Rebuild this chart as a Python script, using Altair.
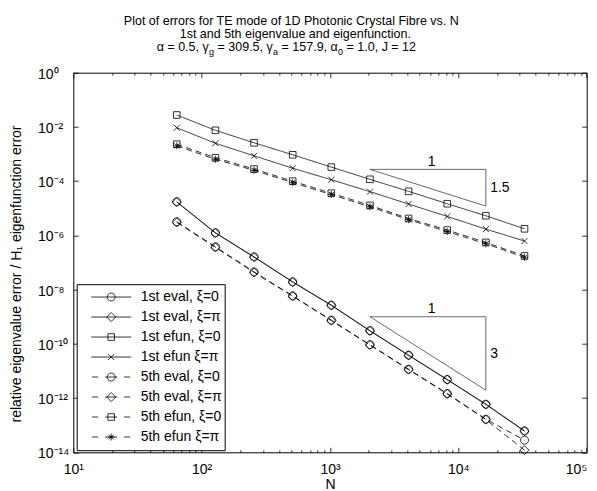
import altair as alt
import pandas as pd

# ---------------- data ----------------
N = [64, 128, 256, 512, 1024, 2048, 4096, 8192, 16384, 32768]

eval1_xi0 = [1.74e-5, 1.25e-6, 1.62e-7, 1.94e-8, 2.68e-9, 3.07e-10, 3.83e-11, 4.85e-12, 5.95e-13, 6.2e-14]
eval1_xipi = [1.70e-5, 1.22e-6, 1.58e-7, 1.90e-8, 2.62e-9, 3.00e-10, 3.75e-11, 4.75e-12, 5.80e-13, 6.0e-14]
efun1_xi0 = [2.75e-2, 7.5e-3, 2.6e-3, 9.4e-4, 3.3e-4, 1.17e-4, 4.2e-5, 1.47e-5, 5.3e-6, 1.75e-6]
efun1_xipi = [9.3e-3, 2.5e-3, 8.6e-4, 3.0e-4, 1.13e-4, 4.1e-5, 1.43e-5, 5.0e-6, 1.7e-6, 6.2e-7]
eval5_xi0 = [3.2e-6, 3.8e-7, 4.5e-8, 5.9e-9, 7.5e-10, 9.3e-11, 1.16e-11, 1.48e-12, 1.66e-13, 2.8e-14]
eval5_xipi = [3.0e-6, 3.6e-7, 4.3e-8, 5.7e-9, 7.2e-10, 9.0e-11, 1.12e-11, 1.42e-12, 1.60e-13, 1.2e-14]
efun5_xi0 = [2.3e-3, 7.3e-4, 2.8e-4, 1.0e-4, 3.6e-5, 1.28e-5, 4.2e-6, 1.57e-6, 5.5e-7, 1.75e-7]
efun5_xipi = [2.0e-3, 6.4e-4, 2.5e-4, 8.8e-5, 3.2e-5, 1.13e-5, 3.8e-6, 1.38e-6, 4.9e-7, 1.55e-7]

series_names = ["1st eval, ξ=0", "1st eval, ξ=π", "1st efun, ξ=0", "1st efun ξ=π",
                "5th eval, ξ=0", "5th eval, ξ=π", "5th efun, ξ=0", "5th efun ξ=π"]
series_values = [eval1_xi0, eval1_xipi, efun1_xi0, efun1_xipi,
                 eval5_xi0, eval5_xipi, efun5_xi0, efun5_xipi]

# slope triangles
tri_N = [2048, 16384, 16384, 2048]
tri1_err = [2.72e-4, 2.72e-4, 1.2e-5, 2.72e-4]
tri2_err = [1.0e-9, 1.0e-9, 1.95e-12, 1.0e-9]
tri_run_label = ["1", "1"]
tri_run_N = [6200, 6200]
tri_run_err = [2.72e-4, 1.0e-9]
tri_rise_label = ["1.5", "3"]
tri_rise_N = [16384, 16384]
tri_rise_err = [5.7e-5, 4.4e-11]

title_line1 = "Plot of errors for TE mode of 1D Photonic Crystal Fibre vs. N"
title_line2 = "1st and 5th eigenvalue and eigenfunction."
title_line3 = ["α = 0.5, γ", "g", "= 309.5, γ", "a", "= 157.9, α", "0", "= 1.0, J = 12"]
x_title = "N"
y_title = "relative eigenvalue error / H₁ eigenfunction error"

x_major = [10, 100, 1000, 10000, 100000]
x_minor = [k * 10 ** e for e in range(1, 5) for k in range(2, 10)]
y_major = [10.0 ** (-e) for e in range(0, 15, 2)]
x_exps = [1, 2, 3, 4, 5]
y_exps = [0, -2, -4, -6, -8, -10, -12, -14]

# ---------------- helpers ----------------
rows = []
for name, vals in zip(series_names, series_values):
    for n, v in zip(N, vals):
        rows.append({"N": n, "err": v, "series": name})
df = pd.DataFrame(rows)

FONT = "Liberation Sans, Arial, Helvetica, sans-serif"
W, H = 513.4, 379.6
PAD_L, PAD_T = 65.3, 64.7
PAD_R = 581 - PAD_L - W      # keep the page no wider than the window
PAD_B = 40

SUP = {"0": "⁰", "1": "¹", "2": "²", "3": "³", "4": "⁴", "5": "⁵",
       "6": "⁶", "7": "⁷", "8": "⁸", "9": "⁹", "-": "⁻"}

# approximate Arial / Liberation Sans advance widths (em)
ADV = {" ": 0.278, "=": 0.584, ".": 0.278, ",": 0.278, "α": 0.579, "γ": 0.5,
       "J": 0.5, "g": 0.556, "a": 0.556}


def text_width(s, size):
    return sum(ADV.get(c, 0.556) for c in s) * size


def sup(s):
    return "".join(SUP[c] for c in s)


def pow_expr(exps):
    expr = "''"
    for e in exps:
        expr = f"(round(log(datum.value)/LN10) == {e}) ? '10{sup(str(e))}' : ({expr})"
    return expr


def tick_axis(orient, values, size):
    off = -(H if orient in ("top", "bottom") else W)
    return alt.Axis(orient=orient, offset=off, values=values, labels=False,
                    domain=False, grid=False, ticks=True, tickSize=size,
                    tickColor="black", tickWidth=0.8, title=None)


xs = alt.Scale(type="log", domain=[10, 100000], nice=False)
ys = alt.Scale(type="log", domain=[1e-14, 1], nice=False)

x_label_axis = alt.Axis(orient="bottom", values=x_major, labelExpr=pow_expr(x_exps),
                        ticks=False, tickSize=0, domain=False, grid=False,
                        labelPadding=10, labelFlush=False, labelOverlap=False,
                        labelAlign={"condition": {"test": "datum.value > 50000", "value": "right"},
                                    "value": "center"},
                        labelFont=FONT, labelFontSize=14, labelColor="black",
                        title=x_title, titleFont=FONT, titleFontSize=14,
                        titleFontWeight="normal", titleColor="black",
                        titleY=35.8, titleBaseline="alphabetic")
y_label_axis = alt.Axis(orient="left", values=y_major, labelExpr=pow_expr(y_exps),
                        ticks=False, tickSize=0, domain=False, grid=False,
                        labelAlign="left", labelBaseline="middle", labelPadding=35.8,
                        labelOffset=1.5, labelFlush=False, labelOverlap=False,
                        labelFont=FONT, labelFontSize=14, labelColor="black",
                        title=y_title, titleFont=FONT, titleFontSize=14,
                        titleFontWeight="normal", titleColor="black",
                        titleX=-52.6, titleY=H / 2 + 11, titleAngle=270,
                        titleAlign="center", titleBaseline="alphabetic")

dash_range = [[1, 0]] * 4 + [[6, 4]] * 4

# markers in plot (size 100 -> 5 px per unit)
P_CIRC = "M0.8,0A0.8,0.8,0,1,1,-0.8,0A0.8,0.8,0,1,1,0.8,0Z"
P_DIAM = "M0,-0.9L0.9,0L0,0.9L-0.9,0Z"
P_SQ = "M-0.66,-0.66L0.66,-0.66L0.66,0.66L-0.66,0.66Z"
P_X = "M-0.6,-0.6L0.6,0.6M-0.6,0.6L0.6,-0.6"
P_AST = "M-0.7,0L0.7,0M0,-0.7L0,0.7M-0.5,-0.5L0.5,0.5M-0.5,0.5L0.5,-0.5"
marker_paths = [P_CIRC, P_DIAM, P_SQ, P_X, P_CIRC, P_DIAM, P_SQ, P_AST]

# legend symbols (size 1600 -> 20 px per unit): line + marker
L_SOLID = "M-1,0L1,0"
L_DASH = "M-0.95,0L-0.65,0M-0.3,0L0.3,0M0.65,0L0.95,0"
M_CIRC = "M0.2,0A0.2,0.2,0,1,1,-0.2,0A0.2,0.2,0,1,1,0.2,0Z"
M_DIAM = "M0,-0.225L0.225,0L0,0.225L-0.225,0Z"
M_SQ = "M-0.165,-0.165L0.165,-0.165L0.165,0.165L-0.165,0.165Z"
M_X = "M-0.15,-0.15L0.15,0.15M-0.15,0.15L0.15,-0.15"
M_AST = "M-0.175,0L0.175,0M0,-0.175L0,0.175M-0.125,-0.125L0.125,0.125M-0.125,0.125L0.125,-0.125"
legend_paths = [L_SOLID + M_CIRC, L_SOLID + M_DIAM, L_SOLID + M_SQ, L_SOLID + M_X,
                L_DASH + M_CIRC, L_DASH + M_DIAM, L_DASH + M_SQ, L_DASH + M_AST]

# ---------------- layers ----------------
lines = alt.Chart(df).mark_line(color="black", strokeWidth=0.8).encode(
    x=alt.X("N:Q", scale=xs, axis=x_label_axis),
    y=alt.Y("err:Q", scale=ys, axis=y_label_axis),
    detail="series:N",
    strokeDash=alt.StrokeDash("series:N", scale=alt.Scale(domain=series_names, range=dash_range), legend=None),
)

points = alt.Chart(df).mark_point(filled=False, color="black", strokeWidth=0.8, size=100, opacity=1).encode(
    x=alt.X("N:Q", scale=xs, axis=tick_axis("top", x_minor, 2.5)),
    y=alt.Y("err:Q", scale=ys, axis=tick_axis("right", y_major, 5)),
    shape=alt.Shape("series:N", scale=alt.Scale(domain=series_names, range=marker_paths), legend=None),
)

legend_layer = alt.Chart(df).mark_point(filled=False, color="black", strokeWidth=0.8, size=1600, opacity=0).encode(
    x=alt.X("N:Q", scale=xs, axis=tick_axis("bottom", x_minor, 2.5)),
    y=alt.Y("err:Q", scale=ys, axis=tick_axis("left", y_major, 5)),
    shape=alt.Shape("series:N", scale=alt.Scale(domain=series_names, range=legend_paths),
                    legend=alt.Legend(title=None, orient="none", legendX=3.4, legendY=211.5,
                                      padding=3, strokeColor="black", fillColor="white",
                                      symbolOpacity=1, symbolStrokeColor="black",
                                      symbolFillColor="transparent", symbolStrokeWidth=0.8,
                                      symbolSize=1600, clipHeight=19.65, rowPadding=0,
                                      symbolOffset=11, labelOffset=9.0, labelFont=FONT,
                                      labelFontSize=14, labelColor="black", labelLimit=300)),
)

tri1 = alt.Chart(pd.DataFrame({"N": tri_N, "err": tri1_err, "i": list(range(4))})).mark_line(
    color="#444444", strokeWidth=0.8).encode(
    x=alt.X("N:Q", scale=xs, axis=tick_axis("top", x_major, 5)),
    y=alt.Y("err:Q", scale=ys, axis=None),
    order=alt.Order("i:Q"),
)
tri2 = alt.Chart(pd.DataFrame({"N": tri_N, "err": tri2_err, "i": list(range(4))})).mark_line(
    color="#444444", strokeWidth=0.8).encode(
    x=alt.X("N:Q", scale=xs, axis=tick_axis("bottom", x_major, 5)),
    y=alt.Y("err:Q", scale=ys, axis=None),
    order=alt.Order("i:Q"),
)

run_labels = alt.Chart(pd.DataFrame({"t": tri_run_label, "N": tri_run_N, "err": tri_run_err})).mark_text(
    font=FONT, fontSize=14, align="center", baseline="alphabetic", dy=-3.3, color="black").encode(
    x=alt.X("N:Q", scale=xs, axis=None), y=alt.Y("err:Q", scale=ys, axis=None), text="t:N")
rise_labels = alt.Chart(pd.DataFrame({"t": tri_rise_label, "N": tri_rise_N, "err": tri_rise_err})).mark_text(
    font=FONT, fontSize=14, align="left", baseline="middle", dx=4.3, color="black").encode(
    x=alt.X("N:Q", scale=xs, axis=None), y=alt.Y("err:Q", scale=ys, axis=None), text="t:N")


def txt(s, x, y, size=12.5, align="left"):
    return alt.Chart(pd.DataFrame({"t": [s]})).mark_text(
        font=FONT, fontSize=size, align=align, baseline="alphabetic", color="black").encode(
        text="t:N", x=alt.value(x), y=alt.value(y))


texts = [
    txt(title_line1, 218.0, -47.7, align="center"),
    txt(title_line2, 222.0, -34.5, align="center"),
]
# third title line: chain main segments and subscripts
MAIN, SUB = 12.5, 9.0
cx = 83.4
for k, seg in enumerate(title_line3):
    if k % 2 == 0:
        if k > 0:
            cx += ADV[" "] * MAIN
        texts.append(txt(seg, cx, -21.8, size=MAIN))
        cx += text_width(seg, MAIN)
    else:
        cx += 0.3
        texts.append(txt(seg, cx, -18.1, size=SUB))
        cx += text_width(seg, SUB)

chart = alt.layer(lines, points, legend_layer, tri1, tri2, run_labels, rise_labels, *texts).resolve_scale(
    shape="independent").resolve_axis(x="independent", y="independent").properties(
    width=W, height=H, autosize=alt.AutoSizeParams(type="none"),
    padding={"left": PAD_L, "top": PAD_T, "right": PAD_R, "bottom": PAD_B},
    background="white",
).configure_view(stroke="black", strokeWidth=1)

chart.save("out.html", embed_options={"renderer": "svg", "actions": False})
